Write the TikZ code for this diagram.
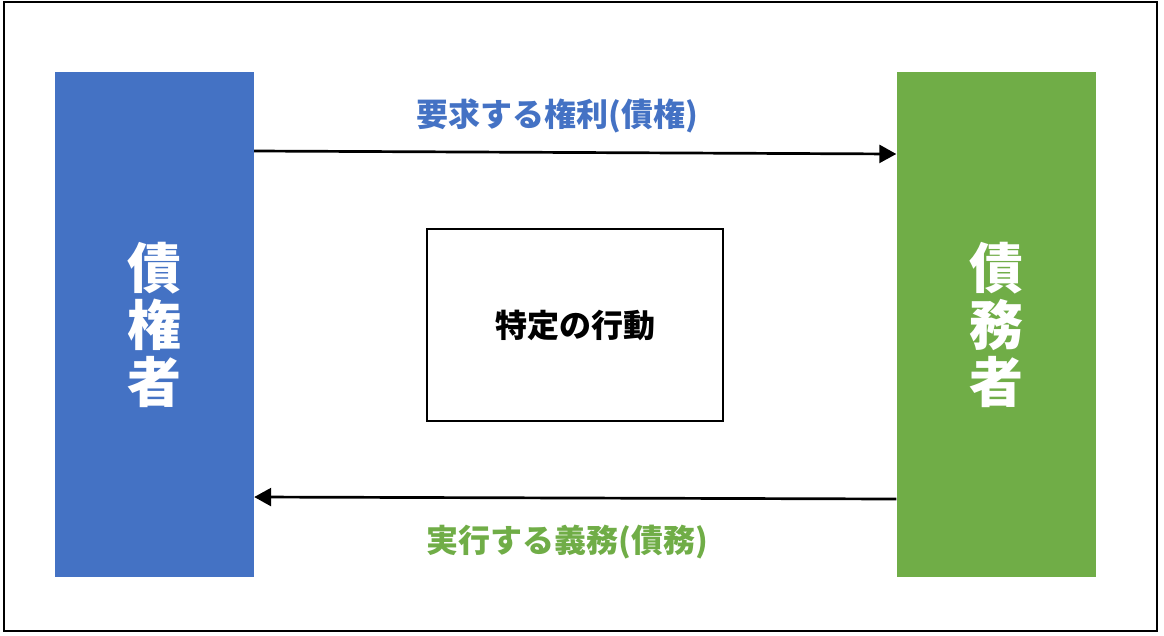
\documentclass[tikz,border=0pt]{standalone}
\usepackage{fontspec}
\setmainfont{Noto Sans CJK JP}
\usetikzlibrary{positioning}
\usetikzlibrary{arrows.meta}
\definecolor{creditorblue}{HTML}{4472C4}
\definecolor{debtorgreen}{HTML}{70AD47}

\begin{document}
\begin{tikzpicture}[
			x=1pt, y=-1pt,
			party/.style={draw=none, minimum width=199pt, minimum height=505pt, align=center, text=white, font=\fontsize{54}{57}\selectfont\bfseries, inner sep=0pt},
			action/.style={draw, line width=1.5pt, fill=white, minimum width=296pt, minimum height=192pt, font=\fontsize{32}{36}\selectfont\bfseries, inner sep=0pt},
			relation/.style={font=\fontsize{32}{36}\selectfont\bfseries, inner sep=0pt},
			link/.style={draw, line width=2.7pt, -{Triangle[length=17pt, width=18pt]}}
			]
			
			% Frame and page size
			\useasboundingbox (0,0) rectangle (1164,635);
			\draw[line width=2pt] (4,1.5) rectangle (1157,631);
			
			% Creditor and debtor columns
			\node[party, fill=creditorblue] (creditor) at (154.5,324.5) {債\\権\\者};
			\node[party, fill=debtorgreen] (debtor) at (996,324.5) {債\\務\\者};
			
			% Central action box
			\node[action] (action) at (575,325) {特定の行動};
			
			% Labels of the two relations
			\node[relation, text=creditorblue] (claim) at (557,116) {要求する権利(債権)};
			\node[relation, text=debtorgreen] (duty) at (567,542) {実行する義務(債務)};
			
			% Arrows between the parties
			\draw[link] ([yshift=173.5pt]creditor.east) -- ([yshift=170.5pt]debtor.west);
			\draw[link] ([yshift=-174.5pt]debtor.west) -- ([yshift=-172.5pt]creditor.east);
			
		\end{tikzpicture}
\end{document}
